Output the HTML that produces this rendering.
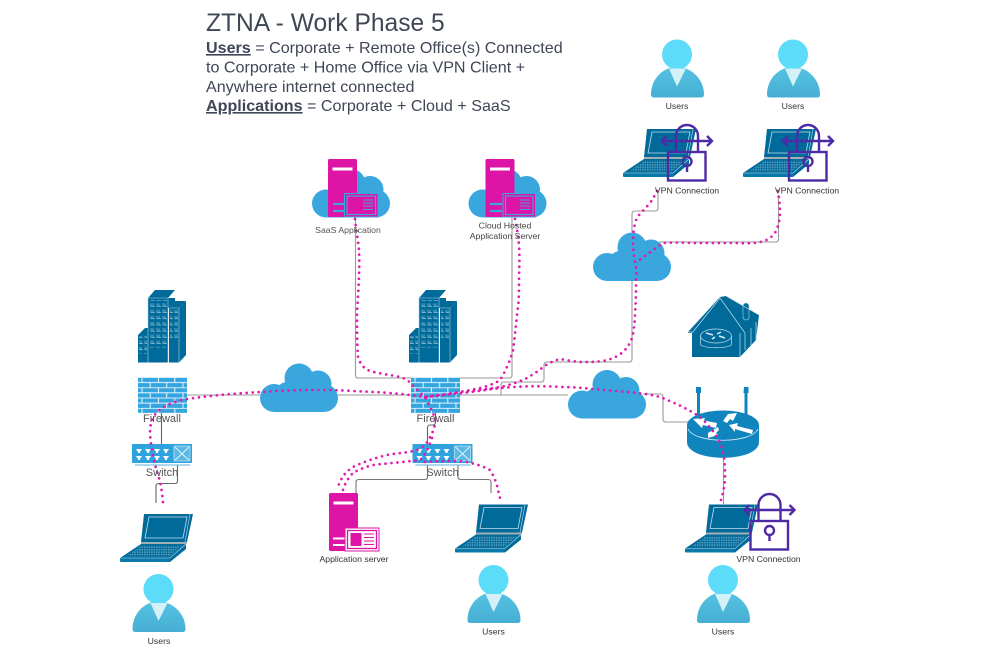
<!DOCTYPE html>
<html><head><meta charset="utf-8"><title>ZTNA - Work Phase 5</title>
<style>
html,body{margin:0;padding:0;background:#fff}
svg{display:block;filter:blur(.3px)}
text{font-family:"Liberation Sans",sans-serif}
.t{fill:#3f4656}
.l{fill:#333;font-size:8.7px;text-anchor:middle}
.g{fill:#555;font-size:11px;text-anchor:middle}
.c{fill:none;stroke:#999;stroke-width:1.1;stroke-linejoin:round}
.d{fill:none;stroke:#e01bad;stroke-width:2.7;stroke-linecap:round;stroke-linejoin:round;stroke-dasharray:0 6}
</style></head><body>
<svg width="987" height="657" viewBox="0 0 987 657" xmlns="http://www.w3.org/2000/svg">
<defs>
<linearGradient id="ub" x1="0" y1="0" x2="0" y2="1"><stop offset="0" stop-color="#55c3e3"/><stop offset="1" stop-color="#46aed2"/></linearGradient>
<pattern id="brick" width="16.4" height="10.3" patternUnits="userSpaceOnUse">
<rect width="16.4" height="10.3" fill="#35a5df"/>
<path d="M0 .4H16.4M0 5.55H16.4M4 .4V5.55M12.2 5.55V10.3" stroke="#e8f6fc" stroke-width="1" fill="none"/>
</pattern>
<pattern id="win" width="6" height="6.2" patternUnits="userSpaceOnUse">
<path d="M1 1V4H5M3 1V4" stroke="#a8d4e6" stroke-width=".6" fill="none"/>
</pattern>
<pattern id="keys" width="2.4" height="2.4" patternUnits="userSpaceOnUse">
<rect width="1.5" height="1.5" fill="#5a9fbe"/>
</pattern>
<g id="user">
<path d="M-26 40C-26 25-15 13 0 12C15 13 27 25 27 40Q27 43 24 43H-23Q-26 43-26 40Z" fill="url(#ub)"/>
<circle r="15" fill="#5cdcf9"/>
<path d="M-8 14H9L0 32Z" fill="#d5f1f8"/>
</g>
<g id="cloud" fill="#3aa6de">
<circle cx="39" cy="15" r="14.5"/><circle cx="58" cy="21" r="13.5"/><circle cx="27" cy="30" r="11"/><circle cx="14" cy="35" r="14"/><circle cx="64" cy="35" r="14"/><rect x="14" y="22" width="50" height="27"/>
</g>
<g id="laptop">
<path d="M24 1H73L67 29H21Z" fill="#006a9a"/>
<path d="M29 4H67L63 25H25Z" fill="none" stroke="#bfe0ec" stroke-width=".8"/>
<path d="M70 1L65 29" stroke="#bfe0ec" stroke-width=".6"/>
<rect x="21" y="29" width="46" height="2" fill="#a3aeb3"/>
<path d="M21 31H66L50 45H0Z" fill="#006a9a"/>
<path d="M21 32.5H63L49 43.5H6Z" fill="url(#keys)"/>
<path d="M0 45H50V49H1Q0 49 0 48Z" fill="#0a78a8"/>
<path d="M50 45L66 31V36L50 49Z" fill="#006a9a"/>
<path d="M0 45H50L66 31" fill="none" stroke="#bfe0ec" stroke-width=".6"/>
</g>
<g id="lock" fill="none" stroke="#4f2aa6" stroke-width="2.4">
<rect x="0" y="0" width="37.5" height="28.5"/>
<path d="M8 0V-16A11 11 0 0 1 30-16V0"/>
<circle cx="19" cy="9.5" r="4.5"/><path d="M19 14V20"/>
<path d="M-6-11H44M-1-16L-6-11L-1-6M39-16L44-11L39-6" stroke-width="2.4"/>
</g>
<g id="build">
<path d="M10 8L17 0H37L30 8ZM31 18L37 11H48L41 18ZM0 45L7 38H10V45Z" fill="#006a9a"/>
<rect x="10" y="8" width="20" height="64.5" fill="#006a9a"/>
<rect x="30" y="8" width="7" height="10" fill="#006a9a"/>
<rect x="31" y="18" width="10" height="54.5" fill="#006a9a"/>
<path d="M41 18L48 11V65L41 72.5Z" fill="#006a9a"/>
<rect x="0" y="45" width="10" height="27.5" fill="#006a9a"/>
<rect x="11" y="10" width="18" height="48" fill="url(#win)"/>
<rect x="32" y="20" width="8" height="30" fill="url(#win)"/>
<rect x="1" y="46" width="8" height="18" fill="url(#win)"/>
<path d="M10 8V72.5M30 8V72.5M10 8H30M31 18H41V72.5" fill="none" stroke="#a8d4e6" stroke-width=".6"/>
</g>
<g id="fw"><rect width="49" height="36" fill="url(#brick)"/></g>
<g id="sw">
<rect width="60" height="19" fill="#2fa3de"/>
<rect x="42" y="2" width="16" height="15" fill="#5bb8e4" stroke="#cdeaf7" stroke-width=".7"/>
<path d="M43 3C48 8 52 12 57 16M57 3C52 8 48 12 43 16" fill="none" stroke="#e6f6fc" stroke-width=".9"/>
<path d="M4 5h6l-2 3v1h-2v-1zM13 5h6l-2 3v1h-2v-1zM22 5h6l-2 3v1h-2v-1zM31 5h6l-2 3v1h-2v-1zM4 12h6l-2 3v1h-2v-1zM13 12h6l-2 3v1h-2v-1zM22 12h6l-2 3v1h-2v-1zM31 12h6l-2 3v1h-2v-1z" fill="#fff"/>
<rect x="3" y="20.5" width="55" height="1" fill="#5bb1dc"/>
</g>
<g id="srv">
<rect width="29" height="58" rx="1.5" fill="#dd14a6"/>
<rect x="4.500" y="8.500" width="20" height="3" fill="#fff"/>
</g>
</defs>

<!-- grey connectors -->
<path class="c" d="M355.500 217V375Q355.500 378 358 378H509Q512 378 512 375V217" />
<path class="c" d="M187 395H260M338 395H411M460 395H568"/>
<path class="c" style="stroke:#666" d="M161.500 413V444M177.500 465V481Q177.500 483.500 175 483.500H159Q156 483.500 156 486V503"/>
<path class="c" style="stroke:#666" d="M435.500 405V422Q435.500 425 433 425H430Q427.500 425 427.500 428V444"/>
<path class="c" style="stroke:#777" d="M427.500 465V477Q427.500 479.500 425 479.500H359Q356 479.500 356 482V493M458 465V477Q458 479.500 461 479.500H488Q491 479.500 491 482V493"/>
<path class="c" d="M501 395V385Q501 382 504 382H541Q544 382 544 379V365Q544 362 547 362H629Q632 362 632 359V281"/>
<path class="c" d="M643 394H660Q663 394 663 397V419Q663 422 666 422H688M723.500 458V504"/>
<path class="c" d="M632 232V214Q632 211 635 211H655Q658 211 658 208V194M659 242H775.500Q778.500 242 778.500 239V195"/>

<!-- buildings -->
<use href="#build" x="138" y="290"/><use href="#build" x="409" y="290"/>
<!-- clouds -->
<use href="#cloud" x="260" y="363"/><use href="#cloud" x="568" y="369.500"/><use href="#cloud" x="593" y="232"/>
<use href="#cloud" x="312" y="168.500"/><use href="#cloud" x="468.500" y="168.500"/>
<!-- firewall/switch -->
<use href="#fw" x="138" y="377"/><use href="#fw" x="411" y="377"/>
<use href="#sw" x="132" y="444"/><use href="#sw" x="412.500" y="444"/>

<!-- home -->
<g transform="translate(688,295)">
<path d="M0 37L32 2L38 1L71 20L68 45L52 62H4V38H0Z" fill="#006a9a"/>
<rect x="55" y="8" width="6" height="17" rx="3" fill="#006a9a" stroke="#a8d4e6" stroke-width=".6"/>
<path d="M0 37H4M4 38L32 3L57 38M38 1L71 20M52 38V62M57 38V55M63 33V50M68 27V45" fill="none" stroke="#bfe0ec" stroke-width=".7"/>
<ellipse cx="28" cy="41" rx="15.500" ry="7" fill="#006a9a" stroke="#bfe0ec" stroke-width=".7"/>
<path d="M12.500 41V49C12.500 54 43.500 54 43.500 49V41" fill="none" stroke="#bfe0ec" stroke-width=".7"/>
<path d="M18 38L25 40M33 37L29 39M24 44L27 42M37 43L31 41" stroke="#d8eef6" stroke-width="1.500"/>
</g>

<!-- router -->
<g>
<path d="M696 387h5v6h-1v22h-3v-22h-1zM744 387h4.500v6h-1v22h-3v-22h-1z" fill="#1084bd"/>
<path d="M687 425V442C687 463 759 463 759 442V425Z" fill="#1084bd"/>
<ellipse cx="723" cy="425" rx="36" ry="14.500" fill="#1084bd"/>
<path d="M688 429C695 444 751 444 758 429" fill="none" stroke="#d8eef6" stroke-width=".8"/>
<path d="M693 419L705 418L704 420.500L717 423L716 428L703 425L702 428ZM723 421L728 414L737 413L733 421L730 419L727 423ZM729 425L738 423L737 426L753 430L752 434L735 429L735 432ZM708 433L718 427L719 430L716 433L718 435L708 438Z" fill="#fff"/>
</g>

<!-- servers -->
<g>
<use href="#srv" x="328" y="159"/>
<path d="M333 204H344M333 211H344" stroke="#3aa6de" stroke-width="2.200"/>
<rect x="344.500" y="193.500" width="33.500" height="23.500" fill="#dd14a6" stroke="#3aa6de" stroke-width="1"/>
<rect x="347" y="196" width="28.500" height="18.500" fill="#dd14a6" stroke="#3aa6de" stroke-width="1.200"/>
<path d="M363 200H373M363 203H373M363 206H373M363 209.500H373" stroke="#3aa6de" stroke-width="1"/>
<use href="#srv" x="485.500" y="159"/>
<path d="M490 204H502M490 211H502" stroke="#3aa6de" stroke-width="2.200"/>
<rect x="503" y="193.500" width="32.500" height="23.500" fill="#dd14a6" stroke="#3aa6de" stroke-width="1"/>
<rect x="505.500" y="196" width="27.500" height="18.500" fill="#dd14a6" stroke="#3aa6de" stroke-width="1.200"/>
<path d="M520 200H530M520 203H530M520 206H530M520 209.500H530" stroke="#3aa6de" stroke-width="1"/>
<use href="#srv" x="329" y="493"/>
<path d="M333 538.500H345M333 545H345" stroke="#fff" stroke-width="2"/>
<rect x="345" y="528" width="34" height="23" fill="#fff" stroke="#dd14a6" stroke-width="1"/>
<rect x="347.500" y="530.500" width="29" height="18" fill="#fff" stroke="#dd14a6" stroke-width="1.300"/>
<rect x="350.500" y="533" width="11" height="13" fill="#dd14a6"/>
<path d="M364 534H374M364 537.500H374M364 541H374M364 544.500H374" stroke="#dd14a6" stroke-width="1.100"/>
</g>

<!-- laptops -->
<use href="#laptop" x="623" y="128"/><use href="#laptop" x="743" y="128"/>
<use href="#laptop" x="120" y="513"/><use href="#laptop" x="455" y="503.500"/><use href="#laptop" x="685" y="503.500"/>

<!-- users -->
<use href="#user" x="677" y="54.500"/><use href="#user" x="793" y="54.500"/>
<use href="#user" x="158.500" y="589"/><use href="#user" x="493.500" y="580"/><use href="#user" x="723" y="580"/>

<!-- locks -->
<use href="#lock" x="668" y="152"/><use href="#lock" x="789" y="152"/><use href="#lock" x="750.500" y="521"/>

<!-- magenta dotted links -->
<path class="d" d="M163 502C162 492 161 485 159 478C155 466 151 450 150 433C150 424 152 418 157 412C165 405 176 401 187 399C215 395 240 393 262 392C290 390 320 389 353 391C375 392 395 393 410 395L425 397"/>
<path class="d" d="M355 219C356 230 358 240 359 250C360 270 358 295 357 313C357 330 357 345 358 357C361 366 365 369 370 371C380 374 392 375 400 377C407 379 410 382 412 385L425 397L428 403C431 409 434 414 435 420C435 426 434 430 432 433C429 441 424 447 417 450C407 453 397 453 387 455C375 458 363 462 353 467C345 472 340 479 337 490"/>
<path class="d" d="M432 438C428 449 424 457 420 460C405 462 390 463 373 465C365 467 358 470 353 473C349 477 345 483 343 490"/>
<path class="d" d="M515 219C517 228 518 236 519 245C520 260 519 270 519 280C519 290 519 300 518 307C516 322 515 337 513 350C512 354 511 357 510 360C507 367 504 374 500 380C493 385 482 388 470 390C455 393 440 395 425 397"/>
<path class="d" d="M657 191C655 195 653 199 650 203C645 209 640 213 637 218C634 224 633 234 633 243C633 252 635 260 636 268C637 272 636 276 636 280C636 292 636 302 635 313C635 322 634 330 632 338C630 344 627 348 623 352C617 357 610 360 602 361C595 362 589 362 583 362C575 362 567 360 560 359C553 361 547 364 542 368C537 372 532 375 527 378C519 382 510 385 500 387C487 389 473 391 460 392C448 394 436 396 425 397"/>
<path class="d" d="M778 191C779 198 780 205 780 213C780 220 778 227 775 233C771 238 766 241 760 242C752 244 742 243 733 243C722 243 711 243 700 243C688 243 675 242 663 243C656 248 649 253 642 258L636 263"/>
<path class="d" d="M425 397C438 396 450 394 463 393C480 391 496 388 513 387C530 386 546 386 563 387C573 387 583 388 593 389C604 390 616 391 627 392C638 393 649 394 660 397C673 402 686 408 697 415C705 421 712 429 717 437C720 442 722 447 723 453C725 460 725 469 725 477C725 485 723 494 720 503"/>
<path class="d" d="M425 462C440 461 453 460 467 462C475 464 483 466 490 470C494 476 497 484 498 490C499 494 500 498 501 502"/>

<!-- labels -->
<text class="t" x="206" y="31" font-size="24.6">ZTNA - Work Phase 5</text>
<text class="t" x="206" y="53" font-size="16.1"><tspan font-weight="bold" text-decoration="underline">Users</tspan> = Corporate + Remote Office(s) Connected</text>
<text class="t" x="206" y="72.500" font-size="16.1">to Corporate + Home Office via VPN Client +</text>
<text class="t" x="206" y="92" font-size="16.1">Anywhere internet connected</text>
<text class="t" x="206" y="111" font-size="16.1"><tspan font-weight="bold" text-decoration="underline">Applications</tspan> = Corporate + Cloud + SaaS</text>

<text class="l" x="677" y="109">Users</text><text class="l" x="793" y="109">Users</text>
<text class="l" x="687" y="193.500">VPN Connection</text><text class="l" x="807" y="193.500">VPN Connection</text>
<text class="l" x="768.500" y="562">VPN Connection</text>
<text class="l" x="159" y="644">Users</text><text class="l" x="493.500" y="634.500">Users</text><text class="l" x="723" y="634.500">Users</text>
<text class="l" x="354" y="562">Application server</text>
<text class="l" x="348" y="233" style="fill:#555">SaaS Application</text>
<text class="l" x="505" y="228.500" style="fill:#444">Cloud Hosted</text>
<text class="l" x="505" y="239" style="fill:#444">Application Server</text>
<text class="g" x="162" y="422">Firewall</text><text class="g" x="435.500" y="422">Firewall</text>
<text class="g" x="162" y="476">Switch</text><text class="g" x="442.500" y="476">Switch</text>
</svg>
</body></html>
